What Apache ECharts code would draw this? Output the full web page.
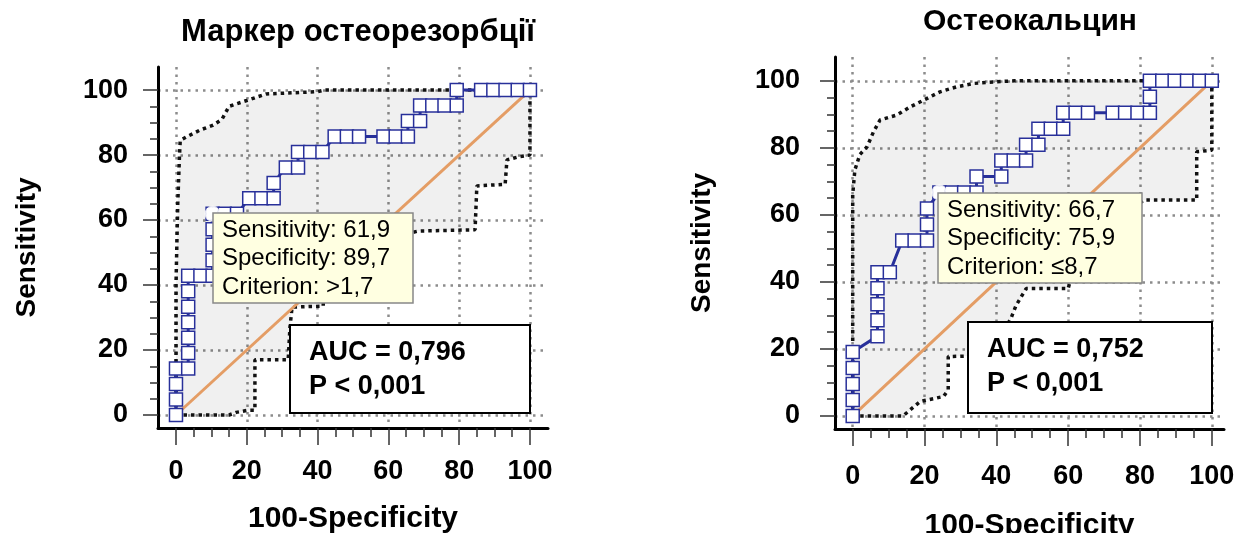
<!DOCTYPE html>
<html>
<head>
<meta charset="utf-8">
<script src="https://cdn.jsdelivr.net/npm/echarts@6/dist/echarts.min.js"></script>
<style>
  html, body { margin: 0; padding: 0; background: #fff; }
  #chart { width: 1237px; height: 533px; }
</style>
</head>
<body>
<div id="chart"></div>
<script>
// tick labels
const majorTicks = [0, 20, 40, 60, 80, 100]
const minorTicks = [0, 5, 10, 15, 20, 25, 30, 35, 40, 45, 50, 55, 60, 65, 70, 75, 80, 85, 90, 95, 100]
const diagonal = [[0, 0], [100, 100]]

// Маркер остеорезорбції: [100-Specificity, Sensitivity]
const rocA = [
  [0, 0], [0, 4.76], [0, 9.52], [0, 14.29], [3.45, 14.29], [3.45, 19.05], [3.45, 23.81],
  [3.45, 28.57], [3.45, 33.33], [3.45, 38.1], [3.45, 42.86], [6.9, 42.86], [10.34, 42.86],
  [10.34, 47.62], [10.34, 52.38], [10.34, 57.14], [10.34, 61.9], [13.79, 61.9], [17.24, 61.9],
  [20.69, 66.67], [24.14, 66.67], [27.59, 66.67], [27.59, 71.43], [31.03, 76.19], [34.48, 76.19],
  [34.48, 80.95], [37.93, 80.95], [41.38, 80.95], [44.83, 85.71], [48.28, 85.71], [51.72, 85.71],
  [58.62, 85.71], [62.07, 85.71], [65.52, 85.71], [65.52, 90.48], [68.97, 90.48], [68.97, 95.24],
  [72.41, 95.24], [75.86, 95.24], [79.31, 95.24], [79.31, 100], [86.21, 100], [89.66, 100],
  [93.1, 100], [96.55, 100], [100, 100]
]
const upperA = [
  [0, 0], [0, 40], [0.5, 65], [1, 80], [1.2, 84.5], [3, 85.6], [6.8, 87.7], [10.5, 89.2],
  [13, 91], [15, 95], [20, 96.8], [25.5, 98.8], [40, 99.5], [42, 100], [100, 100]
]
const lowerA = [
  [0, 0], [15, 0], [17, 0.8], [20.5, 1.5], [22.3, 1.5], [22.3, 17], [31.7, 17], [32.2, 27],
  [32.8, 33.2], [41.6, 33.5], [41.6, 40], [50, 47], [58, 54], [68.4, 56.6], [84.5, 57],
  [85, 70.5], [93, 71], [93.5, 78.5], [97, 79.5], [100, 80], [100, 100]
]
const cutA = [[10.34, 61.9]]

// Остеокальцин
const rocB = [
  [0, 0], [0, 4.76], [0, 9.52], [0, 14.29], [0, 19.05], [6.9, 23.81], [6.9, 28.57], [6.9, 33.33],
  [6.9, 38.1], [6.9, 42.86], [10.34, 42.86], [13.79, 52.38], [17.24, 52.38], [20.69, 52.38],
  [20.69, 57.14], [20.69, 61.9], [24.14, 66.67], [27.59, 66.67], [31.03, 66.67], [34.48, 66.67],
  [34.48, 71.43], [41.38, 71.43], [41.38, 76.19], [44.83, 76.19], [48.28, 76.19], [48.28, 80.95],
  [51.72, 80.95], [51.72, 85.71], [55.17, 85.71], [58.62, 85.71], [58.62, 90.48], [62.07, 90.48],
  [65.52, 90.48], [72.41, 90.48], [75.86, 90.48], [79.31, 90.48], [82.76, 90.48], [82.76, 95.24],
  [82.76, 100], [86.21, 100], [89.66, 100], [93.1, 100], [96.55, 100], [100, 100]
]
const upperB = [
  [0, 0], [0, 40], [0, 66], [0.6, 73.4], [2, 78], [4, 80.3], [5.8, 84.8], [7.6, 88.3],
  [12.3, 89.8], [16, 92.2], [19.7, 94.2], [24.3, 96.7], [29, 98.2], [33.6, 99.2], [40, 99.7],
  [45, 100], [100, 100]
]
const lowerB = [
  [0, 0], [14, 0], [16, 1.8], [18.8, 4.3], [25.3, 5.8], [26.6, 7.8], [26.6, 17.7], [32.7, 17.9],
  [38, 22], [43.8, 28.4], [45.5, 33], [48.3, 38], [60, 38], [61, 42], [68, 52], [76, 60],
  [81, 64.4], [95.8, 64.4], [95.8, 78.8], [100, 79.3], [100, 100]
]
const cutB = [[24.14, 66.67]]

const FONT = "'Liberation Sans', Arial, sans-serif"
const NAVY = '#28309a'
const boldText = { fontFamily: FONT, fontWeight: 'bold', fontSize: 27, color: '#000' }
const gridLine = { show: true, lineStyle: { color: '#8c8c8c', width: 2.5, type: [2.5, 5] } }

function makeXAxes (gridIndex, min, max, labelMargin, nameGap) {
  return [
    {
      type: 'value', gridIndex, min, max, position: 'bottom',
      axisLine: { onZero: false, lineStyle: { color: '#000', width: 3 } },
      axisTick: { customValues: majorTicks, length: 17, lineStyle: { color: '#333', width: 1.5 } },
      axisLabel: { customValues: majorTicks, margin: labelMargin, ...boldText },
      splitLine: gridLine,
      name: '100-Specificity', nameLocation: 'middle', nameGap, nameTextStyle: { ...boldText, fontSize: 30 }
    },
    {
      type: 'value', gridIndex, min, max, position: 'bottom',
      axisLine: { show: false, onZero: false },
      axisTick: { customValues: minorTicks, length: 9, lineStyle: { color: '#333', width: 1.5 } },
      axisLabel: { show: false },
      splitLine: { show: false }
    }
  ]
}

function makeYAxes (gridIndex, min, max, labelMargin, nameGap) {
  return [
    {
      type: 'value', gridIndex, min, max, position: 'left',
      axisLine: { onZero: false, lineStyle: { color: '#000', width: 3 } },
      axisTick: { customValues: majorTicks, length: 15, lineStyle: { color: '#333', width: 1.5 } },
      axisLabel: { customValues: majorTicks, margin: labelMargin, ...boldText },
      splitLine: gridLine,
      name: 'Sensitivity', nameLocation: 'middle', nameGap, nameTextStyle: { ...boldText, fontSize: 28 }
    },
    {
      type: 'value', gridIndex, min, max, position: 'left',
      axisLine: { show: false, onZero: false },
      axisTick: { customValues: minorTicks, length: 8, lineStyle: { color: '#333', width: 1.5 } },
      axisLabel: { show: false },
      splitLine: { show: false }
    }
  ]
}

function makeSeries (axisIndex, upper, lower, roc, cut) {
  const ax = { xAxisIndex: axisIndex, yAxisIndex: axisIndex }
  const ciLine = { color: '#111', width: 3.5, type: [3.5, 4] }
  return [
    {
      // confidence band, see-through so the grid stays visible
      type: 'custom', ...ax, silent: true, z: 1,
      data: [[0, 0]],
      renderItem (params, api) {
        const pts = upper.map(p => api.coord(p)).concat(lower.slice().reverse().map(p => api.coord(p)))
        return { type: 'polygon', shape: { points: pts }, style: { fill: 'rgba(0,0,0,0.06)' } }
      }
    },
    { type: 'line', ...ax, data: upper, symbol: 'none', lineStyle: ciLine, z: 3 },
    { type: 'line', ...ax, data: lower, symbol: 'none', lineStyle: ciLine, z: 3 },
    { type: 'line', ...ax, data: diagonal, symbol: 'none', lineStyle: { color: '#e49d65', width: 3 }, z: 4 },
    {
      type: 'line', ...ax, data: roc, symbol: 'rect', symbolSize: 13,
      lineStyle: { color: NAVY, width: 3 },
      itemStyle: { color: '#fff', borderColor: NAVY, borderWidth: 1.5 },
      z: 5
    },
    {
      type: 'scatter', ...ax, data: cut, symbol: 'emptyCircle', symbolSize: 14,
      itemStyle: { color: '#fff', borderColor: '#f08a3c', borderWidth: 1.5 }, z: 6
    }
  ]
}

function infoBox (x, y, w, h, text) {
  return {
    type: 'group', x, y,
    children: [
      { type: 'rect', z: 100, shape: { x: 0, y: 0, width: w, height: h }, style: { fill: '#ffffe1', stroke: '#888', lineWidth: 1.5 } },
      { type: 'text', z: 101, x: 9, y: 3, style: { text, fontFamily: FONT, fontSize: 24, lineHeight: 28.5, fill: '#000' } }
    ]
  }
}

function aucBox (x, y, w, h, text) {
  return {
    type: 'group', x, y,
    children: [
      { type: 'rect', z: 100, shape: { x: 0, y: 0, width: w, height: h }, style: { fill: '#fff', stroke: '#000', lineWidth: 2 } },
      { type: 'text', z: 101, x: 19, y: 11, style: { text, fontFamily: FONT, fontWeight: 'bold', fontSize: 27, lineHeight: 34, fill: '#000' } }
    ]
  }
}

const chart = echarts.init(document.getElementById('chart'))
chart.setOption({
  animation: false,
  grid: [
    { left: 158, top: 67, width: 390, height: 361, containLabel: false, outerBoundsMode: 'none' },
    { left: 835, top: 57, width: 389, height: 372, containLabel: false, outerBoundsMode: 'none' }
  ],
  xAxis: [...makeXAxes(0, -5.08, 105.1, 30, 76), ...makeXAxes(1, -4.93, 103.4, 34, 82)],
  yAxis: [...makeYAxes(0, -4, 107.1, 30, 117), ...makeYAxes(1, -3.9, 107.1, 35, 119)],
  series: [
    ...makeSeries(0, upperA, lowerA, rocA, cutA),
    ...makeSeries(2, upperB, lowerB, rocB, cutB)
  ],
  graphic: [
    { type: 'text', x: 358, y: 32, z: 100, style: { text: 'Маркер остеорезорбції', ...boldText, fontSize: 31, fill: '#000', align: 'center', verticalAlign: 'middle' } },
    { type: 'text', x: 1030, y: 22, z: 100, style: { text: 'Остеокальцин', ...boldText, fontSize: 30, fill: '#000', align: 'center', verticalAlign: 'middle' } },
    infoBox(213, 213, 200, 90, 'Sensitivity: 61,9\nSpecificity: 89,7\nCriterion: >1,7'),
    infoBox(938, 193, 204, 90, 'Sensitivity: 66,7\nSpecificity: 75,9\nCriterion: ≤8,7'),
    aucBox(290, 325, 240, 88, 'AUC = 0,796\nP < 0,001'),
    aucBox(968, 322, 244, 91, 'AUC = 0,752\nP < 0,001')
  ]
})
</script>
</body>
</html>
